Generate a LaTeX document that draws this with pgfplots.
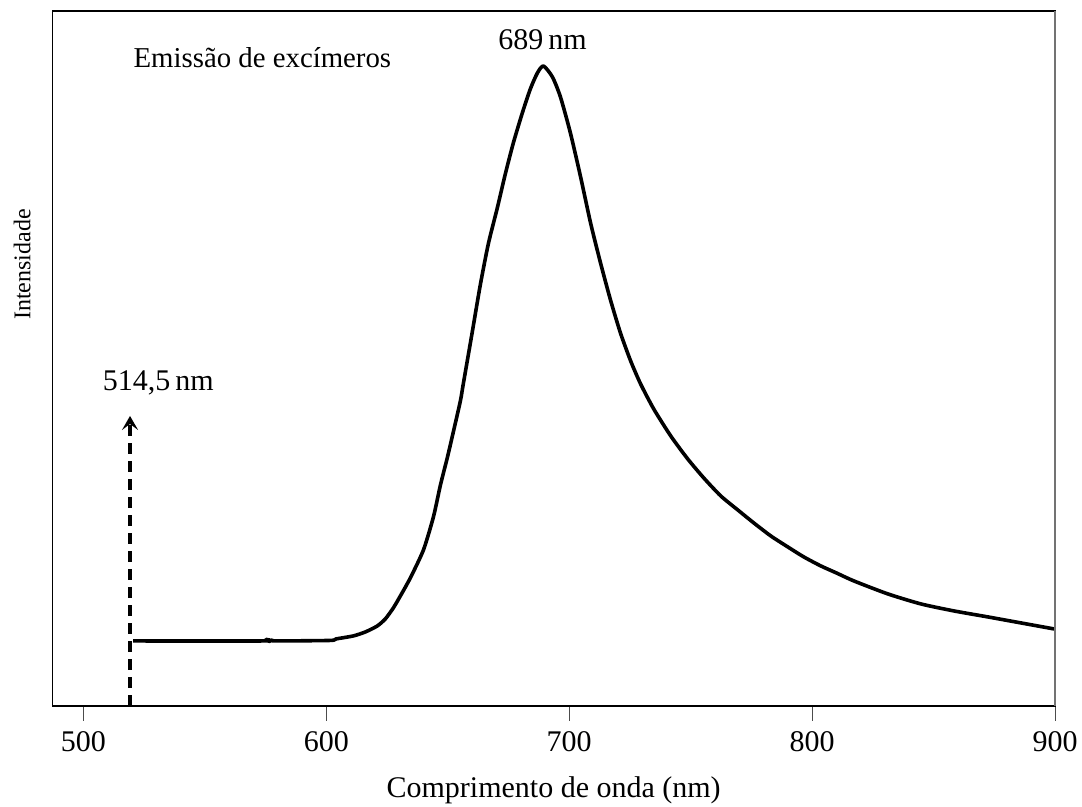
\documentclass[border=0pt]{standalone}
\usepackage{fontspec}
\setmainfont{Liberation Serif}
\usepackage{pgfplots}
\pgfplotsset{compat=1.18}
\usetikzlibrary{arrows.meta}
\begin{document}
\fontsize{15}{18}\selectfont
\begin{tikzpicture}
\begin{axis}[
  name=ax,
  scale only axis,
  width=501.4pt, height=347.5pt,
  xmin=487.2, xmax=900, ymin=0, ymax=695,
  xtick={500,600,700,800,900},
  ytick=\empty,
  xtick pos=bottom,
  tick align=outside,
  major tick length=7.5pt,
  every tick/.style={black!70, line width=0.4pt},
  /pgf/number format/assume math mode=true,
  xticklabel style={font=\fontsize{15}{18}\selectfont},
  axis line style={black, line width=0.7pt},
  xlabel={Comprimento de onda (nm)},
  ylabel={Intensidade},
  xlabel style={at={(axis description cs:0.5,0)}, anchor=center, yshift=-42pt, font=\fontsize{15}{18}\selectfont},
  ylabel style={at={(axis description cs:-0.03,0.635)}, anchor=center, font=\fontsize{12}{14}\selectfont},
  clip=false,
]
\addplot[black, line width=1.8pt, line join=round, smooth, tension=0.4] coordinates {
(520.5,65) (574.0,65) (575.2,66.5) (576.5,64.5) (577.8,66) (579.0,65) (601.6,65.5) (604.0,67)
(611.1,70) (616.1,74) (621.0,80) (624.3,87) (627.6,98) (630.5,110) (634.6,128)
(640.0,156) (644.1,189) (647.0,221) (649.9,249) (652.3,274) (655.2,305) (656.4,322)
(660.1,374) (663.4,421) (666.7,462) (670.4,498) (673.7,532) (677.0,563) (680.7,593)
(684.0,617) (686.9,633) (689.4,640) (693.1,629) (696.4,609) (700.5,573) (704.7,529)
(708.8,483) (712.9,443) (717.0,406) (721.1,373) (725.3,345) (729.4,322) (734.8,297)
(741.8,270) (748.8,247) (755.4,228) (762.4,210) (769.4,196) (776.0,183) (783.0,170)
(790.0,159) (796.6,149) (803.6,140) (810,133) (817.2,125) (831.2,112) (844.8,102)
(858.4,95) (872.4,89) (886.0,83) (899.6,77)
};
\addplot[black, line width=1.6pt, dash pattern=on 5.5pt off 3.5pt,
  -{Stealth[length=7pt,width=8pt,inset=3pt]}] coordinates {(519.2,0) (519.2,290)};
\node[anchor=center] at (axis cs:530.8,323) {514,5\,nm};
\node[anchor=center] at (axis cs:689,666) {689\,nm};
\node[anchor=center, font=\fontsize{14.4}{17}\selectfont] at (axis cs:573.7,648) {Emissão de excímeros};
\draw[black!55, line width=1pt] (rel axis cs:1,0) -- (rel axis cs:1,1);
\end{axis}
\pgfresetboundingbox
\useasboundingbox ([xshift=-26.15pt,yshift=-50.5pt]ax.south west) rectangle ([xshift=13.5pt,yshift=5.5pt]ax.north east);
\end{tikzpicture}
\end{document}
